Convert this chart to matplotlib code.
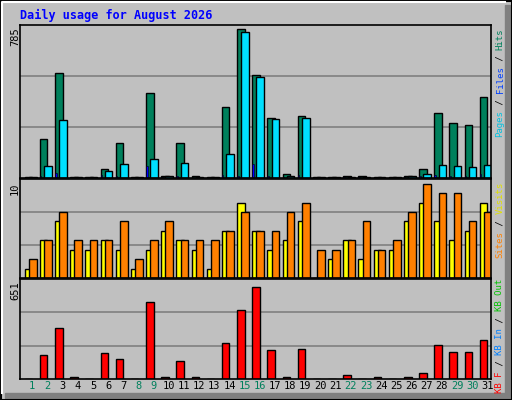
import numpy as np
import matplotlib.pyplot as plt
from matplotlib.patches import Rectangle

# ── data ──────────────────────────────────────────────
days = list(range(1, 32))
weekend = [1, 2, 8, 9, 15, 16, 22, 23, 29, 30]

hits = [2, 206, 554, 5, 5, 50, 186, 3, 450, 10, 186, 8, 2, 376, 785, 540,
        318, 20, 324, 2, 2, 10, 10, 2, 2, 8, 50, 340, 292, 281, 428]
files = [2, 65, 308, 3, 3, 38, 76, 2, 102, 8, 81, 3, 2, 128, 771, 534,
         313, 12, 318, 2, 2, 6, 5, 2, 2, 8, 23, 70, 65, 60, 70]
pages = [1, 10, 28, 2, 2, 15, 10, 1, 65, 3, 10, 2, 1, 15, 12, 75,
         8, 3, 15, 1, 1, 3, 3, 1, 1, 3, 8, 15, 12, 12, 20]
visits = [1, 4, 6, 3, 3, 4, 3, 1, 3, 5, 4, 3, 1, 5, 8, 5,
          3, 4, 6, 0, 2, 4, 2, 3, 3, 6, 8, 6, 4, 5, 8]
sites = [2, 4, 7, 4, 4, 4, 6, 2, 4, 6, 4, 4, 4, 5, 7, 5,
         5, 7, 8, 3, 3, 4, 6, 3, 4, 7, 10, 9, 9, 6, 7]
kbytes = [2, 166, 359, 17, 2, 181, 138, 2, 544, 17, 124, 17, 2, 252, 487, 651,
          202, 17, 209, 2, 2, 31, 2, 17, 2, 17, 45, 238, 188, 188, 273]

BG = '#c0c0c0'
W, H = 512, 400

fig = plt.figure(figsize=(W / 100, H / 100), dpi=100)
fig.patch.set_facecolor(BG)


def px_axes(x0, y0, x1, y1):
    return fig.add_axes([x0 / W, 1 - y1 / H, (x1 - x0) / W, (y1 - y0) / H])


def style(ax, top):
    ax.set_facecolor(BG)
    ax.set_xlim(0.14, 31.19)
    ax.set_ylim(0, top)
    ax.set_xticks([])
    ax.set_yticks([])
    for g in (top / 3, 2 * top / 3):
        ax.axhline(g, color='#808080', lw=1.2, zorder=0)
    for s in ax.spines.values():
        s.set_color('black')
        s.set_linewidth(1.2)


x = np.array(days, dtype=float)
bw = 0.5
ekw = dict(edgecolor='black', linewidth=1, align='edge')

# top panel: hits / files / pages
ax1 = px_axes(20, 25, 491, 178)
style(ax1, 806)
ax1.bar(x - 0.55, np.maximum(hits, 3), bw, color='#00805c', **ekw)
ax1.bar(x - 0.55, np.maximum(pages, 1), 0.1, color='#0000ff', edgecolor='black',
        linewidth=0.4, align='edge')
ax1.bar(x - 0.27, np.maximum(files, 3), bw, color='#00e0ff', **ekw)

# middle panel: visits / sites
ax2 = px_axes(20, 179, 491, 278)
style(ax2, 10.5)
ax2.bar(x - 0.55, visits, bw, color='#ffff00', **ekw)
ax2.bar(x - 0.27, sites, bw, color='#ff8000', **ekw)

# bottom panel: kbytes
ax3 = px_axes(20, 279, 491, 379)
style(ax3, 706)
ax3.bar(x - 0.55, np.maximum(kbytes, 3), bw, color='#ff0000', **ekw)

mono = 'DejaVu Sans Mono'
for d in days:
    c = '#00805c' if d in weekend else 'black'
    ax3.text(d - 0.05, -12, str(d), ha='center', va='top', fontsize=7.5,
             family=mono, color=c, transform=ax3.transData, clip_on=False)

# title and max labels
fig.text(20 / W, 1 - 15 / H, 'Daily usage for August 2026', color='#0000ff',
         fontsize=8.5, fontweight='bold', family=mono, va='center')
for lbl, ytop in (('785', 27), ('10', 182), ('651', 281)):
    fig.text(15 / W, 1 - ytop / H, lbl, rotation=90, ha='center', va='top',
             fontsize=7.5, family=mono)

# rotated legends on right side
def vlegend(parts, ybottom):
    y = ybottom
    cw = 5.44
    for txt, col in parts:
        fig.text(500 / W, 1 - y / H, txt, rotation=90, ha='center', va='bottom',
                 fontsize=6.5, family=mono, color=col)
        y -= cw * len(txt)

vlegend([('Pages', '#00c0e0'), (' / ', 'black'), ('Files', '#0040ff'),
         (' / ', 'black'), ('Hits', '#00805c')], 137)
vlegend([('Sites', '#ff8000'), (' / ', 'black'), ('Visits', '#e0e000')], 258)
vlegend([('KB F', '#ff0000'), (' / ', 'black'), ('KB In', '#0080ff'),
         (' / ', 'black'), ('KB Out', '#00c000')], 393)

# 3D frame
fr = fig.add_axes([0, 0, 1, 1], zorder=-1)
fr.set_xlim(0, W)
fr.set_ylim(H, 0)
fr.axis('off')
fr.add_patch(Rectangle((505, 5), 5, 393, color='#808080'))
fr.add_patch(Rectangle((5, 393), 505, 5, color='#808080'))
fr.add_patch(Rectangle((0.5, 0.5), W - 1, H - 1, fill=False, ec='black', lw=1.5))
fr.plot([2, 2, 505], [393, 2, 2], color='white', lw=1.5)

fig.savefig('out.png', dpi=100, facecolor=BG)
